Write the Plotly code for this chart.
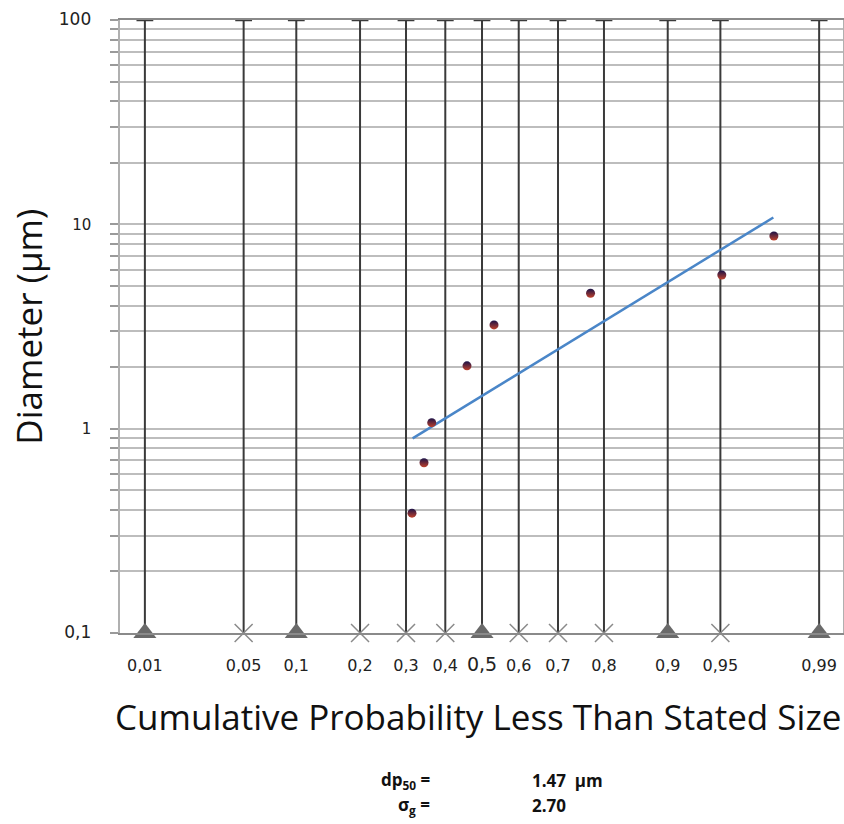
import plotly.graph_objects as go
from statistics import NormalDist

nd = NormalDist()
def z(p):
    return nd.inv_cdf(p)

# Data
point_prob = [0.3145, 0.3445, 0.3643, 0.4588, 0.533, 0.773, 0.951, 0.978]
point_diam = [0.386, 0.681, 1.07, 2.03, 3.22, 4.60, 5.65, 8.77]

fit_prob = [0.316, 0.9778]
fit_diam = [0.897, 10.8]

prob_ticks = [0.01, 0.05, 0.1, 0.2, 0.3, 0.4, 0.5, 0.6, 0.7, 0.8, 0.9, 0.95, 0.99]
prob_labels = ["0,01", "0,05", "0,1", "0,2", "0,3", "0,4", '<span style="font-size:19px">0,5</span>',
               "0,6", "0,7", "0,8", "0,9", "0,95", "0,99"]
triangle_probs = [0.01, 0.1, 0.5, 0.9, 0.99]
cross_probs = [0.05, 0.2, 0.3, 0.4, 0.6, 0.7, 0.8, 0.95]

grid_vals = [m * 10 ** e for e in (-1, 0, 1) for m in range(1, 10)] + [100]
decade_labels = {0.1: '<span style="font-size:17px">0,1</span>', 1: "1", 10: "10",
                 100: '<span style="font-size:17px">100</span>'}

dp50_text = "1.47  µm"
sigma_text = "2.70"

fig = go.Figure()

# vertical probability lines
for p in prob_ticks:
    fig.add_trace(go.Scatter(x=[z(p), z(p)], y=[0.1, 100], mode="lines",
                             line=dict(color="#3a3a3a", width=2), showlegend=False,
                             hoverinfo="skip"))
# top caps
fig.add_trace(go.Scatter(x=[z(p) for p in prob_ticks], y=[100] * len(prob_ticks), mode="markers",
                         marker=dict(symbol="line-ew", size=12, line=dict(color="#3a3a3a", width=2.5)),
                         showlegend=False, cliponaxis=False, hoverinfo="skip"))
# bottom markers
fig.add_trace(go.Scatter(x=[z(p) for p in triangle_probs], y=[0.1] * len(triangle_probs), mode="markers",
                         marker=dict(symbol="triangle-up", size=20, color="#6a6a6a"),
                         showlegend=False, cliponaxis=False, hoverinfo="skip"))
fig.add_trace(go.Scatter(x=[z(p) for p in cross_probs], y=[0.1] * len(cross_probs), mode="markers",
                         marker=dict(symbol="x-thin", size=18, line=dict(color="#8a8a8a", width=1.5)),
                         showlegend=False, cliponaxis=False, hoverinfo="skip"))

# fit line
fig.add_trace(go.Scatter(x=[z(p) for p in fit_prob], y=fit_diam, mode="lines",
                         line=dict(color="#4a86c8", width=2.5), showlegend=False))
# data points
fig.add_trace(go.Scatter(x=[z(p) for p in point_prob], y=point_diam, mode="markers",
                         marker=dict(symbol="circle", size=9, color="#1a1248",
                                     gradient=dict(type="vertical", color="#c0402a"),
                                     line=dict(width=0)),
                         showlegend=False))

fig.update_xaxes(range=[-2.498, 2.491], showgrid=False, zeroline=False, automargin=False,
                 tickvals=[z(p) for p in prob_ticks], ticktext=prob_labels,
                 ticks="", ticklabelstandoff=17,
                 tickfont=dict(family="DejaVu Sans", size=16, color="#222"),
                 showline=True, linecolor="#8a8a8a", linewidth=2, mirror=True)
fig.update_yaxes(type="log", range=[-1, 2], automargin=False,
                 tickvals=grid_vals, ticktext=[decade_labels.get(v, "") for v in grid_vals],
                 showgrid=True, gridcolor="#bdbdbd", gridwidth=1.5,
                 ticks="outside", ticklen=8, tickcolor="#9a9a9a", tickwidth=1.5,
                 ticklabelstandoff=16,
                 tickfont=dict(family="DejaVu Sans", size=15, color="#222"),
                 showline=True, linecolor="#b0b0b0", linewidth=1.5, mirror=True,
                 zeroline=False)

fig.add_annotation(text="Diameter (µm)", xref="paper", yref="paper", x=-0.127, y=0.5,
                   xanchor="center", yanchor="middle", textangle=-90, showarrow=False,
                   font=dict(family="Open Sans", size=35, color="#111"))
fig.add_annotation(text="Cumulative Probability Less Than Stated Size", xref="paper", yref="paper",
                   x=0.495, y=-0.1354, xanchor="center", yanchor="middle", showarrow=False,
                   font=dict(family="Open Sans", size=35, color="#111"))
fig.add_annotation(text="<b>dp<sub>50</sub> =</b>", xref="paper", yref="paper", x=0.4315, y=-0.2414,
                   xanchor="right", yanchor="middle", showarrow=False,
                   font=dict(family="Open Sans", size=17, color="#111"))
fig.add_annotation(text="<b>" + dp50_text + "</b>", xref="paper", yref="paper", x=0.567, y=-0.2414,
                   xanchor="left", yanchor="middle", showarrow=False,
                   font=dict(family="Open Sans", size=17, color="#111"))
fig.add_annotation(text="<b>σ<sub>g</sub> =</b>", xref="paper", yref="paper", x=0.4315, y=-0.282,
                   xanchor="right", yanchor="middle", showarrow=False,
                   font=dict(family="Open Sans", size=17, color="#111"))
fig.add_annotation(text="<b>" + sigma_text + "</b>", xref="paper", yref="paper", x=0.567, y=-0.282,
                   xanchor="left", yanchor="middle", showarrow=False,
                   font=dict(family="Open Sans", size=17, color="#111"))

fig.update_layout(width=844, height=824, margin=dict(l=120, r=1, t=20, b=191),
                  plot_bgcolor="white", paper_bgcolor="white", showlegend=False)

fig.write_html("out.html", config={"displayModeBar": False},
               post_script="document.body.style.margin='0';document.body.style.overflow='hidden';")
